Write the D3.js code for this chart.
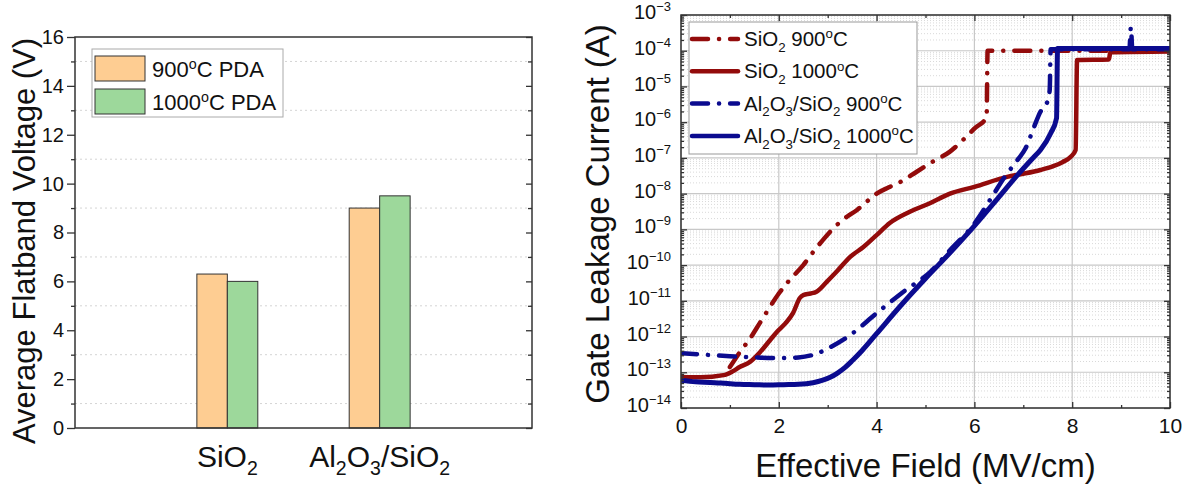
<!DOCTYPE html>
<html>
<head>
<meta charset="utf-8">
<script src="https://cdnjs.cloudflare.com/ajax/libs/d3/7.8.5/d3.min.js"></script>
<style>
  body { margin: 0; background: #fff; }
  svg text { font-family: "Liberation Sans", Arial, sans-serif; fill: #111; }
  .axis path.domain { display: none; }
  .axis line { stroke: #333; stroke-width: 1.3; }
  .Frame { fill: none; stroke: #333; stroke-width: 1.5; }
</style>
</head>
<body>
<div id="ChartContainer"></div>
<script>
// ---- left panel: average flatband voltage
var categories = ["SiO_2", "Al_2O_3/SiO_2"]
var vfb900 = [6.3, 9.0]
var vfb1000 = [6.0, 9.5]
var vfbTicks = [0, 2, 4, 6, 8, 10, 12, 14, 16]
var vfbMinor = [1, 3, 5, 7, 9, 11, 13, 15]
var barLegend = ["900^{o}C PDA", "1000^{o}C PDA"]

// ---- right panel: gate leakage, [field (MV/cm), current (A)]
var sio2_900 = [[1.0, 1.4e-13], [1.2, 3.6e-13], [1.41, 8.7e-13], [1.62, 2.5e-12], [1.82, 6.8e-12],
  [2.0, 1.6e-11], [2.19, 3.4e-11], [2.5, 1.0e-10], [2.7, 2.3e-10], [2.9, 5.0e-10], [3.18, 1.3e-9],
  [3.4, 2.3e-9], [3.6, 3.5e-9], [3.8, 6.0e-9], [4.0, 1.0e-8], [4.25, 1.5e-8], [4.48, 2.1e-8],
  [4.82, 4.1e-8], [5.15, 7.9e-8], [5.5, 1.5e-7], [5.77, 3.2e-7], [6.01, 6.8e-7], [6.25, 1.4e-6],
  [6.27, 1.0e-4], [10, 1.0e-4]]
var sio2_1000 = [[0, 7.4e-14], [0.4, 7.2e-14], [0.87, 8.3e-14], [1.05, 1.05e-13], [1.2, 1.4e-13],
  [1.41, 1.95e-13], [1.62, 3.7e-13], [1.82, 7.9e-13], [1.96, 1.35e-12], [2.13, 2.3e-12],
  [2.29, 4.5e-12], [2.43, 1.2e-11], [2.5, 1.45e-11], [2.65, 1.6e-11], [2.77, 1.8e-11],
  [2.98, 3.4e-11], [3.18, 6.5e-11], [3.46, 1.7e-10], [3.73, 3.2e-10], [4.0, 6.9e-10],
  [4.27, 1.5e-9], [4.68, 3.1e-9], [5.09, 5.4e-9], [5.5, 1.0e-8], [6.0, 1.55e-8], [6.67, 2.95e-8],
  [7.0, 3.6e-8], [7.35, 4.6e-8], [7.6, 5.8e-8], [7.8, 7.6e-8], [7.97, 1.07e-7], [8.07, 1.66e-7],
  [8.1, 5.5e-5], [8.75, 5.7e-5], [8.78, 9.0e-5], [10, 9.5e-5]]
var al_900 = [[0, 3.4e-13], [0.5, 3.1e-13], [1.0, 2.8e-13], [1.5, 2.6e-13], [2.0, 2.5e-13],
  [2.4, 2.6e-13], [2.77, 3.3e-13], [3.05, 5.0e-13], [3.46, 1.1e-12], [4.0, 4.5e-12],
  [4.55, 1.8e-11], [5.1, 6.5e-11], [5.5, 2.6e-10], [6.0, 1.45e-9], [6.4, 1.0e-8], [6.6, 2.7e-8],
  [6.88, 8.7e-8], [7.05, 1.9e-7], [7.22, 7.4e-7], [7.35, 1.95e-6], [7.49, 3.7e-6], [7.54, 8e-6],
  [7.56, 1.1e-4], [9.17, 1.1e-4], [9.2, 4.5e-4], [9.23, 1.1e-4], [10, 1.1e-4]]
var al_1000 = [[0, 6.0e-14], [0.3, 5.4e-14], [0.6, 5.2e-14], [0.9, 4.9e-14], [1.2, 4.6e-14],
  [1.5, 4.5e-14], [1.8, 4.4e-14], [2.1, 4.5e-14], [2.4, 4.6e-14], [2.7, 5.1e-14], [2.9, 6.0e-14],
  [3.05, 7.2e-14], [3.2, 9.5e-14], [3.35, 1.35e-13], [3.5, 2.1e-13], [3.7, 4.0e-13],
  [4.0, 1.2e-12], [4.5, 7.5e-12], [5.0, 4.2e-11], [5.5, 2.2e-10], [6.0, 1.25e-9], [6.5, 8.0e-9],
  [6.88, 3.3e-8], [7.2, 1.0e-7], [7.35, 1.66e-7], [7.56, 4.9e-7], [7.68, 1.3e-6],
  [7.7, 1.15e-4], [10, 1.15e-4]]
var seriesNames = ["SiO_2 900^{o}C", "SiO_2 1000^{o}C", "Al_2O_3/SiO_2 900^{o}C", "Al_2O_3/SiO_2 1000^{o}C"]
var fieldTicks = [0, 2, 4, 6, 8, 10]
var fieldMinor = [1, 3, 5, 7, 9]
var currentTicks = [1e-14, 1e-13, 1e-12, 1e-11, 1e-10, 1e-9, 1e-8, 1e-7, 1e-6, 1e-5, 1e-4, 1e-3]
var currentExp = ["\u221214", "\u221213", "\u221212", "\u221211", "\u221210", "\u22129", "\u22128",
  "\u22127", "\u22126", "\u22125", "\u22124", "\u22123"]

// "_x" -> subscript, "^{...}" -> superscript
function rich(sel, str, fs, supShift) {
  var re = /_(\d)|\^\{([^}]*)\}|([^_^]+)/g
  var m, shift = 0
  while ((m = re.exec(str)) !== null) {
    var t, dy, size
    if (m[1] !== undefined) { t = m[1]; dy = 0.28 * fs; size = 0.65 * fs }
    else if (m[2] !== undefined) { t = m[2]; dy = -supShift * fs; size = 0.65 * fs }
    else { t = m[3]; dy = 0; size = fs }
    var ts = sel.append("tspan").attr("font-size", size).text(t)
    if (dy - shift !== 0) ts.attr("dy", dy - shift)  // keep parent's dy on the first run
    shift = dy
  }
}

var svg = d3.select("#ChartContainer").append("svg")
  .attr("width", 1193)
  .attr("height", 490)

// ================= left panel =================
var L = {left: 75, right: 532, top: 37, bottom: 428}
var xL = d3.scaleLinear().domain([0, 3]).range([L.left, L.right])
var yL = d3.scaleLinear().domain([0, 16]).range([L.bottom, L.top])
var gL = svg.append("g")

// dotted minor grid
gL.selectAll(".MinorGrid").data(vfbMinor).enter().append("line")
  .attr("x1", L.left).attr("x2", L.right)
  .attr("y1", d => yL(d)).attr("y2", d => yL(d))
  .attr("stroke", "#d4d4d4").attr("stroke-dasharray", "2,3")

// bars
var barW = 0.2
var groups = [{vals: vfb900, color: "#fecd92", off: -barW}, {vals: vfb1000, color: "#9dd89b", off: 0}]
groups.forEach(s => {
  gL.selectAll(null).data(s.vals).enter().append("rect")
    .attr("x", (d, i) => xL(i + 1 + s.off))
    .attr("width", xL(barW) - xL(0))
    .attr("y", d => yL(d))
    .attr("height", d => yL(0) - yL(d))
    .attr("fill", s.color)
    .attr("stroke", "#333")
    .attr("stroke-width", 1)
})

// y-axis left (outward) and right (inward)
gL.append("g").attr("class", "axis")
  .attr("transform", `translate(${L.left},0)`)
  .call(d3.axisLeft(yL).tickValues(vfbTicks).tickSize(8).tickPadding(3).tickSizeOuter(0))
  .selectAll("text").attr("font-size", 20).attr("fill", "#111")
gL.append("g").attr("class", "axis")
  .attr("transform", `translate(${L.left},0)`)
  .call(d3.axisLeft(yL).tickValues(vfbMinor).tickSize(4).tickFormat("").tickSizeOuter(0))
gL.append("g").attr("class", "axis")
  .attr("transform", `translate(${L.right},0)`)
  .call(d3.axisRight(yL).tickValues(vfbTicks).tickSize(-6).tickFormat("").tickSizeOuter(0))
gL.append("g").attr("class", "axis")
  .attr("transform", `translate(${L.right},0)`)
  .call(d3.axisRight(yL).tickValues(vfbMinor).tickSize(-4).tickFormat("").tickSizeOuter(0))

gL.append("rect").attr("class", "Frame")
  .attr("x", L.left).attr("y", L.top)
  .attr("width", L.right - L.left).attr("height", L.bottom - L.top)

// category labels
categories.forEach((c, i) => {
  var t = gL.append("text")
    .attr("x", xL(i + 1)).attr("y", 467)
    .attr("text-anchor", "middle")
  rich(t, c, 30, 0.4)
})

// y title
gL.append("text")
  .attr("transform", "translate(35,241) rotate(-90)")
  .attr("text-anchor", "middle")
  .attr("font-size", 31)
  .text("Average Flatband Voltage (V)")

// legend
var legL = gL.append("g").attr("transform", "translate(92,49)")
legL.append("rect").attr("width", 191).attr("height", 68)
  .attr("fill", "#fff").attr("stroke", "#aaa")
barLegend.forEach((name, i) => {
  legL.append("rect")
    .attr("x", 3).attr("y", 7 + i * 33)
    .attr("width", 50).attr("height", 25)
    .attr("fill", groups[i].color).attr("stroke", "#333")
  var t = legL.append("text").attr("x", 60).attr("y", 28 + i * 33)
  rich(t, name, 22, 0.38)
})

// ================= right panel =================
var R = {left: 681, right: 1170, top: 15, bottom: 408}
var xR = d3.scaleLinear().domain([0, 10]).range([R.left, R.right])
var yR = d3.scaleLog().domain([1e-14, 1e-3]).range([R.bottom, R.top])
var gR = svg.append("g")

var minorLog = []
currentTicks.slice(0, -1).forEach(d => {
  for (var k = 2; k <= 9; k++) minorLog.push(d * k)
})

// grid
gR.selectAll(null).data(minorLog).enter().append("line")
  .attr("x1", R.left).attr("x2", R.right)
  .attr("y1", d => yR(d)).attr("y2", d => yR(d))
  .attr("stroke", "#d9d9d9").attr("stroke-dasharray", "1,2")
gR.selectAll(null).data(currentTicks).enter().append("line")
  .attr("x1", R.left).attr("x2", R.right)
  .attr("y1", d => yR(d)).attr("y2", d => yR(d))
  .attr("stroke", "#c8c8c8").attr("stroke-width", 1.2)
gR.selectAll(null).data(fieldTicks).enter().append("line")
  .attr("x1", d => xR(d)).attr("x2", d => xR(d))
  .attr("y1", R.top).attr("y2", R.bottom)
  .attr("stroke", "#c8c8c8").attr("stroke-width", 1.2)

// curves
svg.append("clipPath").attr("id", "clipR").append("rect")
  .attr("x", R.left).attr("y", R.top)
  .attr("width", R.right - R.left).attr("height", R.bottom - R.top)
var line = d3.line()
  .x(d => xR(d[0]))
  .y(d => yR(d[1]))
  .curve(d3.curveMonotoneX)
var styles = [
  {data: sio2_900, color: "#930b0b", dash: "16,11,0.1,11", w: 4.5},
  {data: sio2_1000, color: "#930b0b", dash: null, w: 4.5},
  {data: al_900, color: "#0b0b8f", dash: "16,11,0.1,11", w: 4.5},
  {data: al_1000, color: "#0b0b8f", dash: null, w: 5}
]
styles.forEach(s => {
  gR.append("path")
    .datum(s.data)
    .attr("clip-path", "url(#clipR)")
    .attr("d", line)
    .attr("fill", "none")
    .attr("stroke", s.color)
    .attr("stroke-width", s.w)
    .attr("stroke-linecap", "round")
    .attr("stroke-linejoin", "round")
    .attr("stroke-dasharray", s.dash)
})

// axes, ticks inward on all four sides
function tickAxes(axisFn, scale, major, minor, tr) {
  var g = gR.append("g").attr("class", "axis").attr("transform", tr)
    .call(axisFn(scale).tickValues(major).tickSize(-6).tickPadding(10).tickSizeOuter(0))
  gR.append("g").attr("class", "axis").attr("transform", tr)
    .call(axisFn(scale).tickValues(minor).tickSize(-3).tickFormat("").tickSizeOuter(0))
  return g
}
var xAxis = tickAxes(d3.axisBottom, xR, fieldTicks, fieldMinor, `translate(0,${R.bottom})`)
xAxis.selectAll("text").attr("font-size", 21).attr("fill", "#111")
tickAxes(d3.axisTop, xR, fieldTicks, fieldMinor, `translate(0,${R.top})`)
  .selectAll("text").remove()
var yAxis = tickAxes(d3.axisLeft, yR, currentTicks, minorLog, `translate(${R.left},0)`)
yAxis.selectAll("text").each(function (d, i) {
  var t = d3.select(this).text("").attr("dy", "0.36em").attr("fill", "#111")
  rich(t, "10^{" + currentExp[i] + "}", 20, 0.4)
})
tickAxes(d3.axisRight, yR, currentTicks, minorLog, `translate(${R.right},0)`)
  .selectAll("text").remove()

gR.append("rect").attr("class", "Frame")
  .attr("x", R.left).attr("y", R.top)
  .attr("width", R.right - R.left).attr("height", R.bottom - R.top)

// legend
var legR = gR.append("g").attr("transform", "translate(689,22)")
legR.append("rect").attr("width", 228).attr("height", 132)
  .attr("fill", "#fff").attr("stroke", "#999")
seriesNames.forEach((name, i) => {
  var cy = 17 + i * 32.3
  legR.append("line")
    .attr("x1", 3).attr("x2", 49).attr("y1", cy).attr("y2", cy)
    .attr("stroke", styles[i].color).attr("stroke-width", 4.5)
    .attr("stroke-linecap", "round")
    .attr("stroke-dasharray", styles[i].dash)
  var t = legR.append("text").attr("x", 55).attr("y", cy + 7)
  rich(t, name, 20.5, 0.38)
})

// axis titles
gR.append("text")
  .attr("x", (R.left + R.right) / 2).attr("y", 477)
  .attr("text-anchor", "middle")
  .attr("font-size", 33)
  .text("Effective Field (MV/cm)")
gR.append("text")
  .attr("transform", "translate(609,214) rotate(-90)")
  .attr("text-anchor", "middle")
  .attr("font-size", 33)
  .text("Gate Leakage Current (A)")
</script>
</body>
</html>
